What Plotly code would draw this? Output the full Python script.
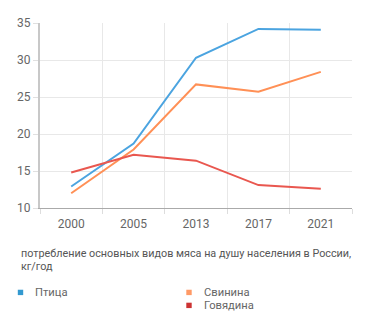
import plotly.graph_objects as go

years = ["2000", "2005", "2013", "2017", "2021"]
poultry = [12.9, 18.7, 30.3, 34.2, 34.1]
pork = [12.0, 17.9, 26.7, 25.7, 28.4]
beef = [14.8, 17.2, 16.4, 13.1, 12.6]

names = ["Птица", "Свинина", "Говядина"]
line_colors = ["#4ba4e0", "#ff9056", "#e9574f"]
legend_colors = ["#3399d0", "#ff9a66", "#cc3333"]
title_lines = ["потребление основных видов мяса на душу населения в России,", "кг/год"]

fig = go.Figure()
for name, vals, col in zip(names, [poultry, pork, beef], line_colors):
    fig.add_trace(go.Scatter(x=years, y=vals, mode="lines", name=name,
                             line=dict(color=col, width=2), showlegend=False))

font = "Roboto, sans-serif"
W, H0 = 312, 185.6


def px2x(px):
    return (px - 40) / W


def px2y(py):
    return (208.3 - py) / H0


fig.update_layout(
    width=371, height=329,
    margin=dict(l=40, r=19, t=23, b=121),
    paper_bgcolor="white", plot_bgcolor="white",
    font=dict(family=font, size=12, color="#666666"),
    xaxis=dict(type="category", range=[-0.5, 4.5], tickson="boundaries",
               showgrid=True, gridcolor="#e8e8e8", gridwidth=1,
               ticks="outside", ticklen=5, tickcolor="#dddddd",
               showline=True, linecolor="#aaaaaa", linewidth=1,
               ticklabelstandoff=5,
               tickfont=dict(size=12, color="#666666")),
    yaxis=dict(range=[10, 35], dtick=5, showgrid=True, gridcolor="#e8e8e8",
               showline=True, linecolor="#c8c8c8", linewidth=2,
               zeroline=False, ticks="outside", ticklen=5, tickcolor="#e0e0e0",
               tickfont=dict(size=12, color="#666666")),
)

for txt, py in zip(title_lines, [254.3, 267.0]):
    fig.add_annotation(text=txt, xref="paper", yref="paper", x=px2x(19), y=px2y(py),
                       xanchor="left", yanchor="middle", showarrow=False, align="left",
                       font=dict(size=10.8, color="#555555", family=font))

leg_pos = [(20.5, 293.0), (189, 293.0), (189, 306.0)]
for name, col, (px, py) in zip(names, legend_colors, leg_pos):
    fig.add_shape(type="rect", xref="paper", yref="paper",
                  x0=px2x(px - 2.7), x1=px2x(px + 2.7),
                  y0=px2y(py + 2.7), y1=px2y(py - 2.7),
                  fillcolor=col, line=dict(width=0))
    fig.add_annotation(text=name, xref="paper", yref="paper",
                       x=px2x(px + 12.5), y=px2y(py),
                       xanchor="left", yanchor="middle", showarrow=False,
                       font=dict(size=11.2, color="#666666", family=font))

fig.write_html("out.html")
